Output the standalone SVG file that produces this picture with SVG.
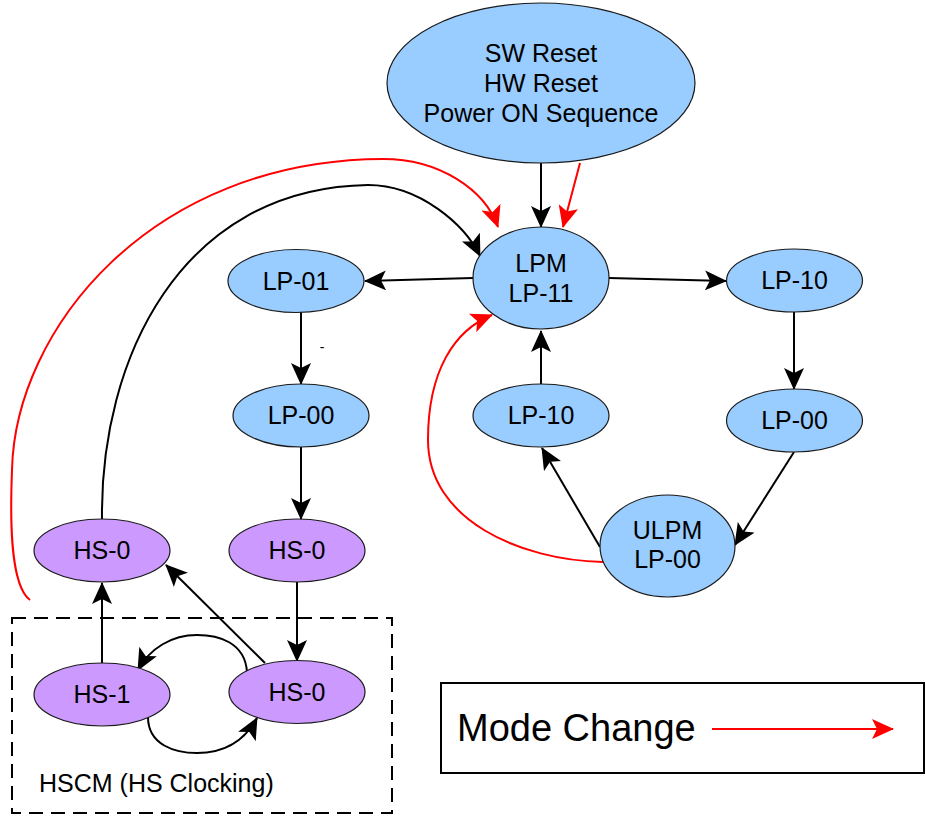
<svg xmlns="http://www.w3.org/2000/svg" width="926" height="816" viewBox="0 0 926 816">
<style>
.n{stroke:#1a1a1a;stroke-width:1.2}
.b{fill:#99CCFF}
.p{fill:#CC99FF}
text{font-family:"Liberation Sans",Arial,sans-serif;font-size:25px;fill:#000;text-anchor:middle}
.c{fill:none;stroke:#000;stroke-width:2;marker-end:url(#ak)}
.r{fill:none;stroke:#f00;stroke-width:2;marker-end:url(#ar)}
</style>
<defs>
<marker id="ak" markerUnits="userSpaceOnUse" markerWidth="22" markerHeight="20" viewBox="0 0 22 20" refX="21" refY="10" orient="auto">
<path d="M0,0 L22,10 L0,20 L5,10 z" fill="#000"/>
</marker>
<marker id="ar" markerUnits="userSpaceOnUse" markerWidth="22" markerHeight="20" viewBox="0 0 22 20" refX="21" refY="10" orient="auto">
<path d="M0,0 L22,10 L0,20 L5,10 z" fill="#f00"/>
</marker>
</defs>
<rect width="926" height="816" fill="#fff"/>
<g id="hscm-box">
<rect x="12" y="618" width="380" height="195" fill="none" stroke="#000" stroke-width="2" stroke-dasharray="14 8"/>
<text x="39" y="792" style="text-anchor:start">HSCM (HS Clocking)</text>
</g>
<g id="connectors">
<path class="c" d="M541,163 L541,227"/>
<path class="r" d="M580,163 L563,227"/>
<path class="c" d="M473,278 L365,281"/>
<path class="c" d="M609,278 L726,281"/>
<path class="c" d="M301,312 L301,384"/>
<path class="c" d="M301,447 L301,519"/>
<path class="c" d="M297,582 L297,661"/>
<path class="c" d="M102,663 L102,583"/>
<path class="c" d="M265,663 L166,565"/>
<path class="c" d="M247,672 C245,642 218,635 197,635 C172,635 150,648 138,670"/>
<path class="c" d="M148,717 C148,745 175,753 197,753 C225,753 245,740 257,718"/>
<path class="c" d="M102,519 C100,360 180,188 368,185 C420,185 465,225 480,256"/>
<path class="r" d="M30,600 C10,585 10,520 12,470 C15,330 150,160 383,159 C440,159 485,190 498,227"/>
<path class="r" d="M603,562 C520,560 428,520 428,440 C428,370 455,330 492,315"/>
<path class="c" d="M600,547 L542,448"/>
<path class="c" d="M541,384 L541,331"/>
<path class="c" d="M794,312 L794,389"/>
<path class="c" d="M794,452 L735,545"/>
<text x="322" y="352" style="font-size:14px">-</text>
</g>
<g id="reset">
<ellipse class="n b" cx="541" cy="83" rx="154" ry="80"/>
<text x="541" y="62">SW Reset</text>
<text x="541" y="92">HW Reset</text>
<text x="541" y="122">Power ON Sequence</text>
</g>
<g id="lpm">
<ellipse class="n b" cx="541" cy="278" rx="68" ry="51"/>
<text x="541" y="272">LPM</text>
<text x="541" y="302">LP-11</text>
</g>
<g id="lp01">
<ellipse class="n b" cx="296" cy="281" rx="68" ry="31.5"/>
<text x="296" y="290">LP-01</text>
</g>
<g id="lp00-left">
<ellipse class="n b" cx="301" cy="415.5" rx="68" ry="31.5"/>
<text x="301" y="424">LP-00</text>
</g>
<g id="lp10-right">
<ellipse class="n b" cx="794.5" cy="280.5" rx="68" ry="31.5"/>
<text x="794.5" y="289">LP-10</text>
</g>
<g id="lp00-right">
<ellipse class="n b" cx="794.5" cy="420.5" rx="68" ry="31.5"/>
<text x="794.5" y="429">LP-00</text>
</g>
<g id="lp10-mid">
<ellipse class="n b" cx="541" cy="415.5" rx="68" ry="31.5"/>
<text x="541" y="424">LP-10</text>
</g>
<g id="ulpm">
<ellipse class="n b" cx="667.5" cy="546" rx="67.5" ry="51"/>
<text x="667.5" y="539">ULPM</text>
<text x="667.5" y="568">LP-00</text>
</g>
<g id="hs0-left">
<ellipse class="n p" cx="102" cy="550.5" rx="68" ry="31.5"/>
<text x="102" y="559">HS-0</text>
</g>
<g id="hs0-mid">
<ellipse class="n p" cx="297" cy="550.5" rx="68" ry="31.5"/>
<text x="297" y="559">HS-0</text>
</g>
<g id="hs1">
<ellipse class="n p" cx="102" cy="694.5" rx="68" ry="31.5"/>
<text x="102" y="703">HS-1</text>
</g>
<g id="hs0-bottom">
<ellipse class="n p" cx="297" cy="692" rx="68" ry="31.5"/>
<text x="297" y="701">HS-0</text>
</g>
<g id="legend">
<rect x="441" y="683" width="483" height="90" fill="#fff" stroke="#000" stroke-width="2"/>
<text x="457" y="741" style="text-anchor:start;font-size:38px">Mode Change</text>
<path class="r" d="M712,729 L893,729"/>
</g>
</svg>
